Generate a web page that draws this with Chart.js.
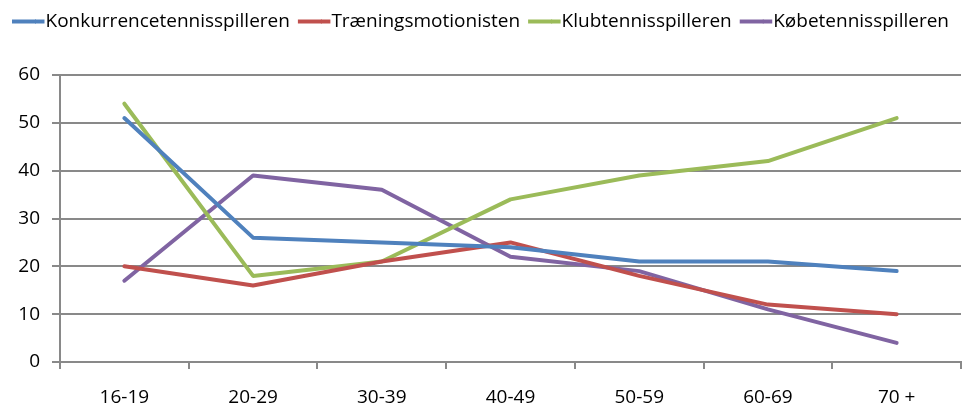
<!DOCTYPE html>
<html>
<head>
<meta charset="utf-8">
<script src="https://cdn.jsdelivr.net/npm/chart.js@4"></script>
<style>
html,body{margin:0;padding:0;background:#fff;}
#wrap{width:962px;height:405px;}
</style>
</head>
<body>
<div id="wrap"><canvas id="c" width="962" height="405"></canvas></div>
<script>
const categories = ['16-19','20-29','30-39','40-49','50-59','60-69','70 +'];
const seriesNames = ['Konkurrencetennisspilleren','Træningsmotionisten','Klubtennisspilleren','Købetennisspilleren'];
const konkurrence = [51, 26, 25, 24, 21, 21, 19];
const traening = [20, 16, 21, 25, 18, 12, 10];
const klub = [54, 18, 21, 34, 39, 42, 51];
const kobe = [17, 39, 36, 22, 19, 11, 4];
const yTicks = [0, 10, 20, 30, 40, 50, 60];

const colors = ['#4F81BD', '#C0504D', '#9BBB59', '#8064A2'];
const values = [konkurrence, traening, klub, kobe];
const FONT = 'Open Sans';
const FS = 19;
const BOX_W = 24;
const BOX_H = 4;
const GRID = '#898989';

Chart.defaults.font.family = FONT;

const datasets = values.map((v, i) => ({
  label: seriesNames[i],
  data: v,
  borderColor: colors[i],
  backgroundColor: colors[i],
  borderWidth: 4,
  borderCapStyle: 'round',
  borderJoinStyle: 'round',
  pointRadius: 0,
  pointHoverRadius: 0,
  tension: 0,
  fill: false
}));

const legendSpace = {
  id: 'legendSpace',
  afterInit(chart) {
    const lg = chart.legend;
    if (!lg) return;
    const orig = lg.fit;
    lg.fit = function () {
      orig.call(this);
      this.height += 34;
    };
  },
  afterDraw(chart) {
    const lg = chart.legend;
    if (!lg || !lg.legendHitBoxes) return;
    const ctx = chart.ctx;
    ctx.save();
    lg.legendItems.forEach((it, i) => {
      const hb = lg.legendHitBoxes[i];
      if (!hb) return;
      ctx.fillStyle = it.fillStyle;
      const y = hb.top + Math.max((FS - BOX_H) / 2, 0);
      ctx.fillRect(hb.left + BOX_W - 1, y, FS / 2, BOX_H);
    });
    ctx.restore();
  }
};

new Chart(document.getElementById('c'), {
  type: 'line',
  data: { labels: categories, datasets },
  plugins: [legendSpace],
  options: {
    responsive: false,
    animation: false,
    layout: { padding: { left: 0, right: 1, top: 4, bottom: 0 } },
    plugins: {
      tooltip: { enabled: false },
      legend: {
        position: 'top',
        labels: {
          font: { family: FONT, size: FS },
          color: '#000',
          boxWidth: BOX_W,
          boxHeight: BOX_H,
          padding: 8,
          generateLabels(chart) {
            const items = Chart.defaults.plugins.legend.labels.generateLabels(chart);
            items.forEach(it => { it.lineWidth = 0; });
            return items;
          }
        }
      }
    },
    scales: {
      x: {
        type: 'category',
        offset: true,
        afterFit(scale) { scale.height = 43; },
        grid: {
          offset: true,
          drawOnChartArea: false,
          drawTicks: true,
          tickLength: 7,
          color: GRID,
          lineWidth: 2
        },
        border: { display: true, color: GRID, width: 2 },
        ticks: {
          font: { family: FONT, size: FS, lineHeight: 1 },
          color: '#000',
          padding: 19,
          maxRotation: 0
        }
      },
      y: {
        min: 0,
        max: 60,
        afterFit(scale) { scale.width = 60; },
        afterBuildTicks(scale) { scale.ticks = yTicks.map(v => ({ value: v })); },
        grid: {
          color: GRID,
          lineWidth: 2,
          tickLength: 8
        },
        border: { display: true, color: GRID, width: 2 },
        ticks: {
          font: { family: FONT, size: FS, lineHeight: 1 },
          color: '#000',
          padding: 12
        }
      }
    }
  }
});
</script>
</body>
</html>
